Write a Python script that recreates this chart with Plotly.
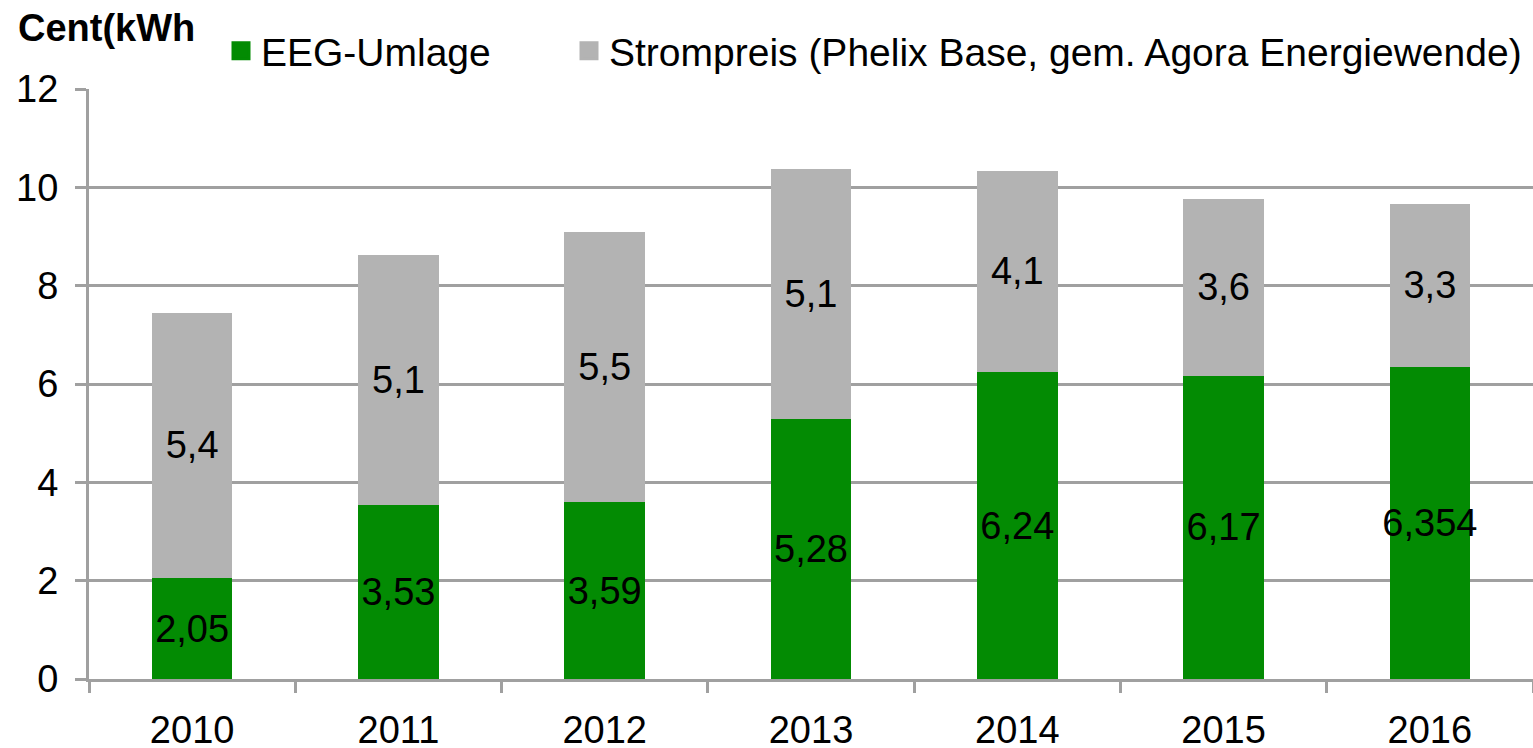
import plotly.graph_objects as go

years = ["2010", "2011", "2012", "2013", "2014", "2015", "2016"]
eeg_umlage = [2.05, 3.53, 3.59, 5.28, 6.24, 6.17, 6.354]
strompreis = [5.4, 5.1, 5.5, 5.1, 4.1, 3.6, 3.3]
y_ticks = [0, 2, 4, 6, 8, 10, 12]

GREEN = "#038b03"
GRAY = "#b3b3b3"
GRID = "#a0a0a0"
FONT = "Liberation Sans, Arial, sans-serif"

W, H = 1533, 748
L, T, B = 89, 89, 69
PW, PH = W - L, H - T - B


def fmt(v):
    return f"{v}".replace(".", ",")


def px_x(p):
    return (p - L) / PW


def px_y(p):
    return (H - B - p) / PH


fig = go.Figure()
fig.add_trace(go.Bar(
    x=years, y=eeg_umlage, name="EEG-Umlage",
    marker=dict(color=GREEN, line=dict(width=0)),
    text=[fmt(v) for v in eeg_umlage], textposition="inside",
    insidetextanchor="middle", textangle=0, constraintext="none",
    textfont=dict(color="black", size=38, family=FONT),
    showlegend=False,
))
fig.add_trace(go.Bar(
    x=years, y=strompreis, name="Strompreis (Phelix Base, gem. Agora Energiewende)",
    marker=dict(color=GRAY, line=dict(width=0)),
    text=[fmt(v) for v in strompreis], textposition="inside",
    insidetextanchor="middle", textangle=0, constraintext="none",
    textfont=dict(color="black", size=38, family=FONT),
    showlegend=False,
))
# legend entries
for nm, col, lg in [("EEG-Umlage", GREEN, "legend"),
                    ("Strompreis (Phelix Base, gem. Agora Energiewende)", GRAY, "legend2")]:
    fig.add_trace(go.Scatter(
        x=[None], y=[None], mode="markers", name=nm, legend=lg,
        marker=dict(symbol="square", size=16, color=col, line=dict(color=col, width=3)),
    ))

leg_common = dict(orientation="h", xanchor="left", yanchor="middle",
                  font=dict(size=39, family=FONT), bgcolor="rgba(0,0,0,0)")
fig.update_layout(
    width=W, height=H,
    margin=dict(l=L, r=0, t=T, b=B, autoexpand=False),
    barmode="stack", bargap=0.61,
    plot_bgcolor="white", paper_bgcolor="white",
    font=dict(family=FONT, size=38, color="black"),
    legend=dict(x=px_x(221), y=px_y(51), **leg_common),
    legend2=dict(x=px_x(569), y=px_y(51), **leg_common),
    annotations=[dict(
        text="<b>Cent(kWh</b>", xref="paper", yref="paper",
        x=px_x(16), xanchor="left", y=px_y(28), yanchor="middle",
        showarrow=False, font=dict(size=38, family=FONT, color="black"),
    )],
)
fig.update_yaxes(
    range=[0, 12], tickvals=y_ticks, ticktext=[str(t) for t in y_ticks],
    showgrid=True, gridcolor=GRID, gridwidth=3,
    showline=True, linecolor=GRID, linewidth=3,
    ticks="outside", ticklen=11, tickwidth=3, tickcolor=GRID,
    ticklabelstandoff=9, zeroline=False,
    tickfont=dict(size=38, family=FONT),
)
fig.update_xaxes(
    type="category", categoryorder="array", categoryarray=years,
    showline=True, linecolor=GRID, linewidth=3,
    ticks="outside", ticklen=11, tickwidth=3, tickcolor=GRID,
    tickson="boundaries", showgrid=False,
    ticklabelstandoff=15,
    tickfont=dict(size=38, family=FONT),
)

fig.write_html(
    "out.html",
    config={"displayModeBar": False},
    post_script="document.body.style.margin='0';document.body.style.overflow='hidden';",
)
